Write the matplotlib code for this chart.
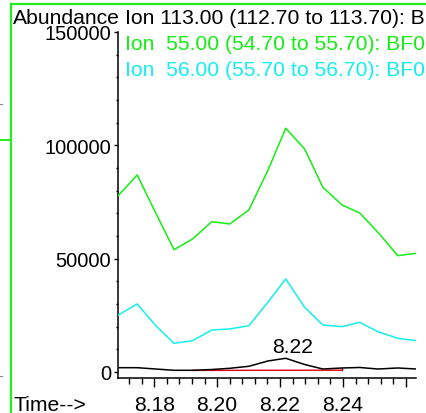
import matplotlib
matplotlib.use("Agg")
import matplotlib.pyplot as plt
from matplotlib.lines import Line2D
from matplotlib.ticker import MultipleLocator, FixedLocator, FixedFormatter

plt.rcParams['font.family'] = ['Liberation Sans', 'DejaVu Sans']

# Scan times (min)
times = [8.1686, 8.1746, 8.1805, 8.1863, 8.1922, 8.1983, 8.2040, 8.2101, 8.2161,
         8.2218, 8.2278, 8.2336, 8.2397, 8.2453, 8.2511, 8.2574, 8.2633]

# Extracted ion abundances
ion_113 = [1900, 1900, 1320, 750, 750, 1100, 1630, 2520, 4850,
           6050, 3310, 1320, 1770, 1990, 1320, 1770, 1320]
ion_55 = [77800, 86940, 70170, 53970, 58690, 66330, 65310, 71490, 88830,
          107550, 98410, 81510, 73700, 70170, 61650, 51320, 52380]
ion_56 = [25150, 30010, 20430, 12670, 13810, 18530, 18980, 20430, 30760,
          41040, 28550, 20740, 19990, 21930, 17780, 14870, 13810]

# Integration baseline of the Ion 113 peak
base_t = [8.1922, 8.2397]
base_v = [700, 800]

trace_labels = ["Ion 113.00 (112.70 to 113.70): BF01.D",
                "Ion  55.00 (54.70 to 55.70): BF01.D",
                "Ion  56.00 (55.70 to 56.70): BF01.D"]

x_major = [8.18, 8.20, 8.22, 8.24, 8.26]
x_major_labels = ["8.18", "8.20", "8.22", "8.24", ""]
y_major = [0, 50000, 100000, 150000]

BLACK = "#000000"
GREEN = "#14ee14"
CYAN = "#14eeee"
RED = "#e00000"
FS = 14.5
FS_HEAD = 15.2

W, H = 426, 414
fig = plt.figure(figsize=(W / 100, H / 100), dpi=100)
fig.patch.set_facecolor("white")

ax = fig.add_axes([118.3 / W, 1 - 379.3 / H, (416 - 118.3) / W, (379.3 - 33) / H])
ax.set_facecolor("white")

ax.plot(times, ion_55, color=GREEN, lw=1.1, zorder=3)
ax.plot(times, ion_56, color=CYAN, lw=1.1, zorder=3)
ax.plot(times, ion_113, color=BLACK, lw=1.1, zorder=4)
ax.plot(base_t, base_v, color=RED, lw=1.0, zorder=3)
end_v = ion_113[times.index(base_t[1])]
ax.plot([base_t[1], base_t[1]], [base_v[1], end_v], color=RED, lw=1.0, zorder=3)

# Retention time label above the apex
i_pk = ion_113.index(max(ion_113))
ax.annotate(f"{times[i_pk]:.2f}", xy=(times[i_pk], ion_113[i_pk]),
            xytext=(6.6, 6), textcoords="offset pixels",
            ha="center", va="baseline", fontsize=FS_HEAD, color=BLACK)

ax.set_xlim(8.1686, 8.2632)
ax.set_ylim(-2780, 150000)

for side in ("top", "right"):
    ax.spines[side].set_visible(False)
for side in ("left", "bottom"):
    ax.spines[side].set_linewidth(1.1)

ax.xaxis.set_major_locator(FixedLocator(x_major))
ax.xaxis.set_major_formatter(FixedFormatter(x_major_labels))
ax.xaxis.set_minor_locator(MultipleLocator(0.004))
ax.yaxis.set_major_locator(FixedLocator(y_major))
ax.yaxis.set_minor_locator(MultipleLocator(10000))
ax.set_yticklabels([str(v) for v in y_major])

ax.tick_params(axis="x", which="major", direction="out", length=6.3, width=1.0,
               pad=6, labelsize=FS_HEAD)
ax.tick_params(axis="x", which="minor", direction="out", length=4.1, width=1.0)
ax.tick_params(axis="y", which="major", direction="out", length=2.6, width=1.0,
               pad=2.5, labelsize=FS)
ax.tick_params(axis="y", which="minor", direction="out", length=1.7, width=1.0)

# Header and trace legend
fig.text(12.7 / W, 1 - 24 / H, "Abundance", fontsize=FS_HEAD, color=BLACK, va="baseline")
for lbl, col, yb in zip(trace_labels, [BLACK, GREEN, CYAN], [24, 50, 76]):
    fig.text(125 / W, 1 - yb / H, lbl, fontsize=FS_HEAD, color=col, va="baseline")
fig.text(13.3 / W, 1 - 411.5 / H, "Time-->", fontsize=FS_HEAD, color=BLACK, va="baseline")

# Window frame
def px_line(xs, ys, color, lw):
    fig.add_artist(Line2D([x / W for x in xs], [1 - y / H for y in ys],
                          color=color, lw=lw, transform=fig.transFigure))

px_line([11, 11], [5, 414], "#22ee22", 1.6)
px_line([11, 426], [5, 5], "#22ee22", 1.6)
px_line([0, 11], [140.7, 140.7], "#22ee22", 1.4)
px_line([0, 2], [105, 105], "#888888", 0.8)
px_line([0, 2], [376.7, 376.7], "#888888", 0.8)

fig.savefig("out.png", dpi=100, facecolor="white")
